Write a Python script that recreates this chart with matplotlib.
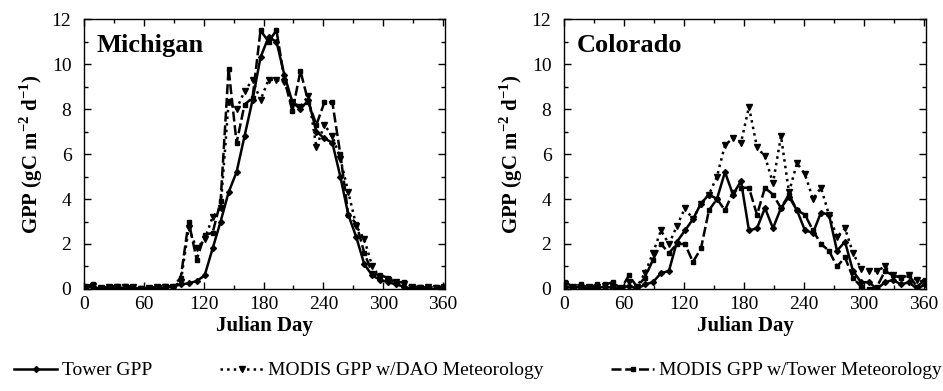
import numpy as np
import matplotlib
matplotlib.use("Agg")
import matplotlib.pyplot as plt
from matplotlib.ticker import MultipleLocator

plt.rcParams["font.family"] = ["Liberation Serif", "DejaVu Serif"]
plt.rcParams["mathtext.fontset"] = "custom"
plt.rcParams["mathtext.rm"] = "Liberation Serif"
plt.rcParams["mathtext.bf"] = "Liberation Serif:bold"

# 8-day composite periods (Julian day)
days = np.arange(1, 362, 8)

# Michigan
mi_tower = [0.05, 0.1, 0.0, 0.05, 0.05, 0.05, 0.05, 0.0, 0.0, 0.05, 0.05, 0.1,
            0.2, 0.25, 0.35, 0.6, 1.8, 3.0, 4.3, 5.2, 6.8, 8.4, 10.3, 11.2,
            11.0, 9.5, 8.3, 8.0, 8.4, 7.0, 6.7, 6.5, 5.0, 3.3, 2.3, 1.1,
            0.6, 0.4, 0.3, 0.2, 0.1, 0.0, 0.05, 0.0, 0.0, 0.05]
mi_dao = [0.1, 0.15, 0.05, 0.1, 0.1, 0.1, 0.1, 0.0, 0.05, 0.1, 0.1, 0.1,
          0.3, 2.7, 1.8, 2.2, 3.2, 3.6, 8.3, 8.0, 8.8, 9.3, 8.4, 9.3,
          9.3, 9.2, 8.3, 8.1, 8.6, 6.3, 7.3, 6.8, 5.8, 4.3, 2.8, 2.2,
          1.0, 0.5, 0.4, 0.3, 0.2, 0.1, 0.05, 0.1, 0.05, 0.1]
mi_towmet = [0.1, 0.2, 0.05, 0.1, 0.15, 0.15, 0.1, 0.05, 0.05, 0.1, 0.15, 0.1,
             0.5, 3.0, 1.3, 2.4, 2.5, 3.9, 9.8, 6.5, 8.2, 8.5, 11.5, 11.0,
             11.5, 9.3, 7.9, 9.7, 8.3, 7.3, 8.3, 8.3, 6.0, 3.3, 2.9, 1.6,
             0.7, 0.6, 0.5, 0.3, 0.3, 0.1, 0.1, 0.05, 0.1, 0.1]

# Colorado
co_tower = [0.1, 0.05, 0.1, 0.0, 0.05, 0.1, 0.05, 0.0, 0.15, 0.0, 0.2, 0.3,
            0.7, 0.8, 2.1, 2.6, 3.1, 3.8, 4.2, 4.0, 5.2, 4.2, 4.8, 2.6,
            2.7, 3.6, 2.7, 3.6, 4.1, 3.5, 2.6, 2.5, 3.4, 3.3, 1.7, 2.1,
            0.8, 0.3, 0.3, 0.0, 0.3, 0.4, 0.2, 0.3, 0.0, 0.2]
co_dao = [0.2, 0.1, 0.05, 0.1, 0.1, 0.15, 0.1, 0.05, 0.3, 0.1, 0.7, 1.6,
          2.6, 2.0, 2.8, 3.6, 3.1, 3.8, 4.2, 5.0, 6.4, 6.7, 6.5, 8.1,
          6.3, 5.9, 4.7, 6.8, 4.3, 5.6, 5.1, 4.0, 4.5, 3.3, 2.3, 2.7,
          1.6, 0.9, 0.8, 0.8, 1.0, 0.6, 0.5, 0.6, 0.4, 0.3]
co_towmet = [0.3, 0.1, 0.2, 0.05, 0.2, 0.2, 0.3, 0.0, 0.6, 0.1, 0.5, 1.3,
             2.0, 1.6, 2.0, 2.0, 1.2, 1.8, 3.5, 4.0, 3.5, 4.3, 4.5, 4.5,
             3.3, 4.5, 4.2, 3.6, 4.2, 3.5, 3.3, 2.6, 2.0, 1.7, 1.0, 1.4,
             0.5, 0.1, 0.0, 0.1, 0.8, 0.6, 0.5, 0.6, 0.1, 0.4]

panels = [("Michigan", mi_tower, mi_dao, mi_towmet),
          ("Colorado", co_tower, co_dao, co_towmet)]

fig = plt.figure(figsize=(9.43, 3.91), dpi=100)
ax_left = fig.add_axes([0.089, 0.261, 0.383, 0.690])
ax_right = fig.add_axes([0.598, 0.261, 0.384, 0.690])

for ax, (name, tower, dao, towmet) in zip([ax_left, ax_right], panels):
    l1, = ax.plot(days, tower, color="black", linestyle="-", linewidth=1.8,
                  marker="D", markersize=3, label="Tower GPP")
    l2, = ax.plot(days, dao, color="black", linestyle=":", linewidth=1.8,
                  marker="v", markersize=4.5, label="MODIS GPP w/DAO Meteorology")
    l3, = ax.plot(days, towmet, color="black", linestyle=(0, (4, 1.5)), linewidth=1.8,
                  marker="s", markersize=3.5, label="MODIS GPP w/Tower Meteorology")

    ax.set_xlim(0, 362)
    ax.set_ylim(0, 12)
    ax.xaxis.set_major_locator(MultipleLocator(60))
    ax.xaxis.set_minor_locator(MultipleLocator(30))
    ax.yaxis.set_major_locator(MultipleLocator(2))
    ax.yaxis.set_minor_locator(MultipleLocator(1))
    ax.tick_params(which="both", direction="in", top=True, right=True,
                   labelsize=14, width=1)
    ax.tick_params(which="major", length=5)
    ax.tick_params(which="minor", length=3)
    ax.tick_params(axis="x", which="major", pad=5)
    ax.tick_params(axis="y", which="major", pad=9)
    for sp in ax.spines.values():
        sp.set_linewidth(1.0)

    ax.set_xlabel("Julian Day", fontsize=15, fontweight="bold", labelpad=2)
    ax.set_ylabel(r"GPP (gC m$^{\mathbf{-2}}$ d$^{\mathbf{-1}}$)", fontsize=15,
                  fontweight="bold", labelpad=5)
    ax.text(0.035, 0.945, name, transform=ax.transAxes, fontsize=19,
            fontweight="bold", va="top", ha="left")

fig.legend(handles=[l1, l2, l3], loc="center", bbox_to_anchor=(0.507, 0.052),
           ncol=3, frameon=False, fontsize=14, handlelength=2.2,
           handletextpad=0.25, columnspacing=3.5)

fig.savefig("out.png", dpi=100)
